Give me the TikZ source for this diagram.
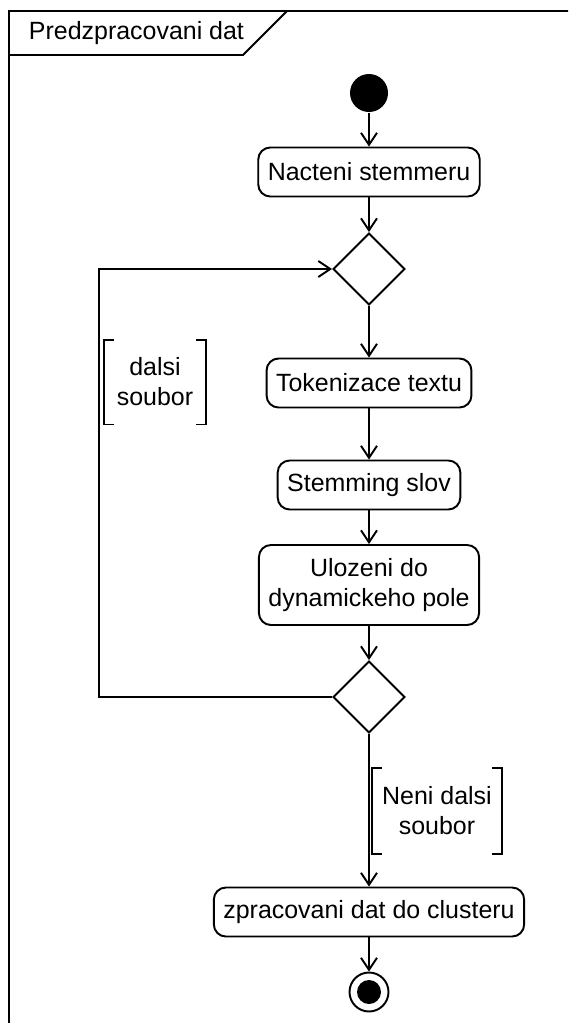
\documentclass[tikz,border=0pt]{standalone}
\usepackage{fontspec}
\setmainfont{Liberation Sans}
\usepackage{tikz}
\usetikzlibrary{shapes.geometric, arrows.meta, positioning, calc}

\begin{document}
\begin{tikzpicture}[
    line width=1.1pt,
    font=\fontsize{14.2pt}{0.6cm}\selectfont,
    action/.style={rectangle, draw, rounded corners=0.24cm, minimum height=0.98cm, inner xsep=0.19cm, align=center},
    decision/.style={diamond, draw, minimum width=1.44cm, minimum height=1.44cm, inner sep=0pt},
    initial/.style={circle, fill=black, minimum size=0.76cm, inner sep=0pt},
    final/.style={circle, draw, minimum size=0.78cm, inner sep=0pt},
    finaldot/.style={circle, fill=black, minimum size=0.48cm, inner sep=0pt},
    guard/.style={rectangle, inner sep=0pt, align=center},
    flow/.style={->, >={Straight Barb[length=2.4mm, width=3.2mm]}}
]
    \useasboundingbox (0,0) rectangle (11.36,-20.46);
    \clip (0,0) rectangle (11.36,-20.46);

    % Frame with its name tab
    \draw (0.18,-21) -- (0.18,-0.22) -- (12,-0.22);
    \draw (0.18,-1.10) -- (4.86,-1.10) -- (5.74,-0.22);
    \node[anchor=west, inner sep=0pt] (title) at (0.56,-0.66) {Predzpracovani dat};

    % Main column
    \node[initial] (start) at (7.38,-1.86) {};
    \node[action] (load) at (7.38,-3.44) {Nacteni stemmeru};
    \node[decision] (nextfile) at (7.38,-5.38) {};
    \node[action] (token) at (7.38,-7.66) {Tokenizace textu};
    \node[action] (stem) at (7.38,-9.70) {Stemming slov};
    \node[action, minimum height=1.6cm] (store) at (7.38,-11.70) {Ulozeni do\\dynamickeho pole};
    \node[decision] (morefiles) at (7.38,-13.94) {};
    \node[action] (cluster) at (7.38,-18.24) {zpracovani dat do clusteru};
    \node[final] (end) at (7.38,-19.84) {};
    \node[finaldot] (enddot) at (end) {};

    \draw[flow] (start) -- (load);
    \draw[flow] (load) -- (nextfile);
    \draw[flow] (nextfile) -- (token);
    \draw[flow] (token) -- (stem);
    \draw[flow] (stem) -- (store);
    \draw[flow] (store) -- (morefiles);
    \draw[flow] (morefiles) -- (cluster);
    \draw[flow] (cluster) -- (end);

    % Loop back for the next file
    \coordinate (loop) at (1.98,-13.94);
    \draw[flow] (morefiles.west) -- (loop) |- (nextfile.west);

    % Guards
    \node[guard, minimum width=2.0cm, minimum height=1.66cm] (again) at (3.10,-7.64) {dalsi\\soubor};
    \draw ([xshift=0.2cm]again.north west) -- (again.north west) -- (again.south west) -- ([xshift=0.2cm]again.south west);
    \draw ([xshift=-0.2cm]again.north east) -- (again.north east) -- (again.south east) -- ([xshift=-0.2cm]again.south east);

    \node[guard, minimum width=2.56cm, minimum height=1.68cm] (done) at (8.74,-16.22) {Neni dalsi\\soubor};
    \draw ([xshift=0.2cm]done.north west) -- (done.north west) -- (done.south west) -- ([xshift=0.2cm]done.south west);
    \draw ([xshift=-0.2cm]done.north east) -- (done.north east) -- (done.south east) -- ([xshift=-0.2cm]done.south east);
\end{tikzpicture}
\end{document}
